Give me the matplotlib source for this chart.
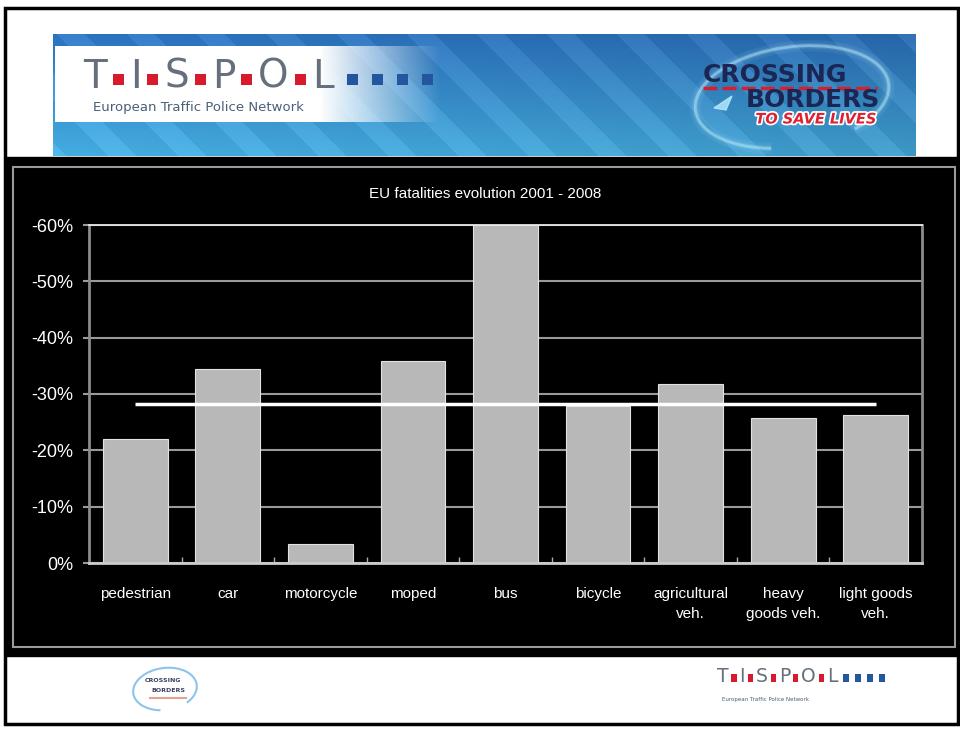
import numpy as np
import matplotlib
matplotlib.use('Agg')
from matplotlib import pyplot as plt
from matplotlib.patches import Rectangle, Arc, Polygon
import matplotlib.patheffects as pe

plt.rcParams['font.family'] = ['Liberation Sans', 'DejaVu Sans']

# %% data
categories = ['pedestrian', 'car', 'motorcycle', 'moped', 'bus', 'bicycle',
              'agricultural\nveh.', 'heavy\ngoods veh.', 'light goods\nveh.']
change_pct = [-22.0, -34.5, -3.4, -35.9, -60.0, -27.9, -31.8, -25.8, -26.3]
eu_average = -28.2
y_ticks = [0, -10, -20, -30, -40, -50, -60]
y_tick_labels = ['0%', '-10%', '-20%', '-30%', '-40%', '-50%', '-60%']
title = 'EU fatalities evolution 2001 - 2008'

W, H = 960, 731


def box(x0, y0, x1, y1):
    # pixel box (top-left origin) -> figure fraction rect
    return [x0 / W, 1 - y1 / H, (x1 - x0) / W, (y1 - y0) / H]


def draw_tispol(ax, x0, y0, sx, sy, fs_big, fs_small):
    letters = [('T', 12), ('I', 52.5), ('S', 93.5), ('P', 140.5), ('O', 190.5), ('L', 240)]
    reds = [35.5, 69.5, 117.5, 163.5, 217.5]
    blues = [269, 294, 319, 344]
    for ch, dx in letters:
        ax.text(x0 + dx * sx, y0 + 17 * sy, ch, ha='center', va='center',
                fontsize=fs_big, color='#66707c', family=['DejaVu Sans'],
                fontweight='normal', zorder=5)
    sq = 11
    for dx in reds:
        ax.add_patch(Rectangle((x0 + dx * sx - sq * sx / 2, y0 + 19 * sy - sq * sy / 2),
                               sq * sx, sq * sy, color='#d8192e', lw=0, zorder=5))
    for dx in blues:
        ax.add_patch(Rectangle((x0 + dx * sx - sq * sx / 2, y0 + 19 * sy - sq * sy / 2),
                               sq * sx, sq * sy, color='#2456a0', lw=0, zorder=5))
    ax.text(x0 + 10 * sx, y0 + 48 * sy, 'European Traffic Police Network', ha='left',
            va='center', fontsize=fs_small, color='#4a5f78', family=['DejaVu Sans'],
            zorder=5)


def main():
    fig = plt.figure(figsize=(9.6, 7.31), dpi=100, facecolor='white')

    # canvas in pixel coords for the slide decoration
    bg = fig.add_axes([0, 0, 1, 1], zorder=0)
    bg.axis('off')

    # banner gradient
    bh, bw = 122, 863
    yy, xx = np.mgrid[0:bh, 0:bw]
    fy = yy / bh
    fx = xx / bw
    top = np.array([0.17, 0.45, 0.75])
    bot = np.array([0.27, 0.68, 0.88])
    base = top[None, None, :] * (1 - fy[..., None]) + bot[None, None, :] * fy[..., None]
    base = base * (1 - 0.12 * fx[..., None])
    stripes = (np.sin(2 * np.pi * (xx - yy) / 70) > 0.3) * 0.05
    img = np.clip(base + stripes[..., None], 0, 1)
    bg.imshow(img, extent=(53, 916, 156, 34), origin='upper', aspect='auto', zorder=1)

    # white fading box behind the TISPOL logo
    wh, ww = 10, 385
    alpha = np.clip((440 - (55 + np.arange(ww))) / 120, 0, 1)
    white = np.ones((wh, ww, 4))
    white[..., 3] = alpha[None, :]
    bg.imshow(white, extent=(55, 440, 122, 46), origin='upper', aspect='auto', zorder=2)

    draw_tispol(bg, 83, 60, 1.0, 1.0, 28, 9.5)

    # crossing borders logo
    for lw, al in [(8, 0.08), (4, 0.15), (2, 0.45)]:
        bg.add_patch(Arc((792, 97), 195, 100, angle=-8, theta1=120, theta2=395,
                         color='#bff0ff', lw=lw, alpha=al, zorder=3))
    bg.add_patch(Polygon([[714, 108], [732, 96], [726, 110]], closed=True,
                         color='#b8ecff', alpha=0.8, zorder=3))
    bg.text(703, 75, 'CROSSING', ha='left', va='center', fontsize=18, fontweight='bold',
            color='#1c2654', family=['DejaVu Sans'], zorder=4)
    bg.plot([703, 877], [88, 88], color='#d42030', lw=2.5, ls=(0, (4, 1.5)), zorder=4)
    bg.text(880, 100, 'BORDERS', ha='right', va='center', fontsize=18, fontweight='bold',
            color='#1c2654', family=['DejaVu Sans'], zorder=4)
    bg.text(877, 119, 'TO SAVE LIVES', ha='right', va='center', fontsize=10.5,
            fontweight='bold', fontstyle='italic', color='#e0202e',
            family=['DejaVu Sans'], zorder=4,
            path_effects=[pe.withStroke(linewidth=2.5, foreground='white')])

    # black chart panel
    bg.add_patch(Rectangle((5, 157), 953, 499, color='black', zorder=1))
    bg.add_patch(Rectangle((13, 167), 942, 480, fill=False, ec='#9a9a9a', lw=1.5, zorder=2))

    # footer logos
    bg.add_patch(Arc((165, 689), 64, 42, angle=-8, theta1=110, theta2=400,
                     color='#8cc4ea', lw=1.5, zorder=3))
    bg.text(163, 681, 'CROSSING', ha='center', va='center', fontsize=4.5,
            fontweight='bold', color='#3a4060', family=['DejaVu Sans'], zorder=4)
    bg.text(168, 690, 'BORDERS', ha='center', va='center', fontsize=4.5,
            fontweight='bold', color='#3a4060', family=['DejaVu Sans'], zorder=4)
    bg.plot([150, 186], [698, 698], color='#e8a090', lw=1.5, zorder=4)
    draw_tispol(bg, 717, 664, 0.48, 0.75, 13.5, 4)

    # page frame
    bg.add_patch(Rectangle((5, 8), 953, 716, fill=False, ec='black', lw=2.5, zorder=6))

    bg.set_xlim(0, W)
    bg.set_ylim(H, 0)

    # chart
    ax = fig.add_axes(box(89, 225, 922, 563), zorder=1)
    ax.set_facecolor('none')
    x = np.arange(len(categories))
    ax.bar(x, change_pct, width=0.7, color='#b8b8b8', edgecolor='#e2e2e2', lw=0.8,
           zorder=2)
    ax.hlines(eu_average, x[0], x[-1], color='white', lw=2.5, zorder=3)

    ax.set_xlim(-0.5, len(categories) - 0.5)
    ax.set_ylim(0, -60)
    ax.set_yticks(y_ticks)
    ax.set_yticklabels(y_tick_labels)
    ax.yaxis.grid(True, color='#9a9a9a', lw=1.5)
    ax.set_axisbelow(True)
    ax.set_xticks(x)
    ax.set_xticklabels(categories, linespacing=1.6)
    ax.set_xticks(x[:-1] + 0.5, minor=True)

    ax.tick_params(axis='y', colors='#9a9a9a', labelcolor='white', labelsize=13,
                   length=4, width=1.5, pad=7)
    ax.tick_params(axis='x', which='major', length=0, pad=17, labelcolor='white',
                   labelsize=11)
    ax.tick_params(axis='x', which='minor', direction='in', length=4, width=1,
                   color='#aaaaaa')
    for side in ['left', 'right']:
        ax.spines[side].set_color('#8c8c8c')
        ax.spines[side].set_linewidth(2)
    ax.spines['top'].set_color('#e8e8e8')
    ax.spines['top'].set_linewidth(1.3)
    ax.spines['bottom'].set_color('#cccccc')
    ax.spines['bottom'].set_linewidth(2)

    fig.text(485 / W, 1 - 194 / H, title, ha='center', va='center', color='white',
             fontsize=11)

    fig.savefig('out.png', dpi=100, facecolor='white')


if __name__ == '__main__':
    main()
